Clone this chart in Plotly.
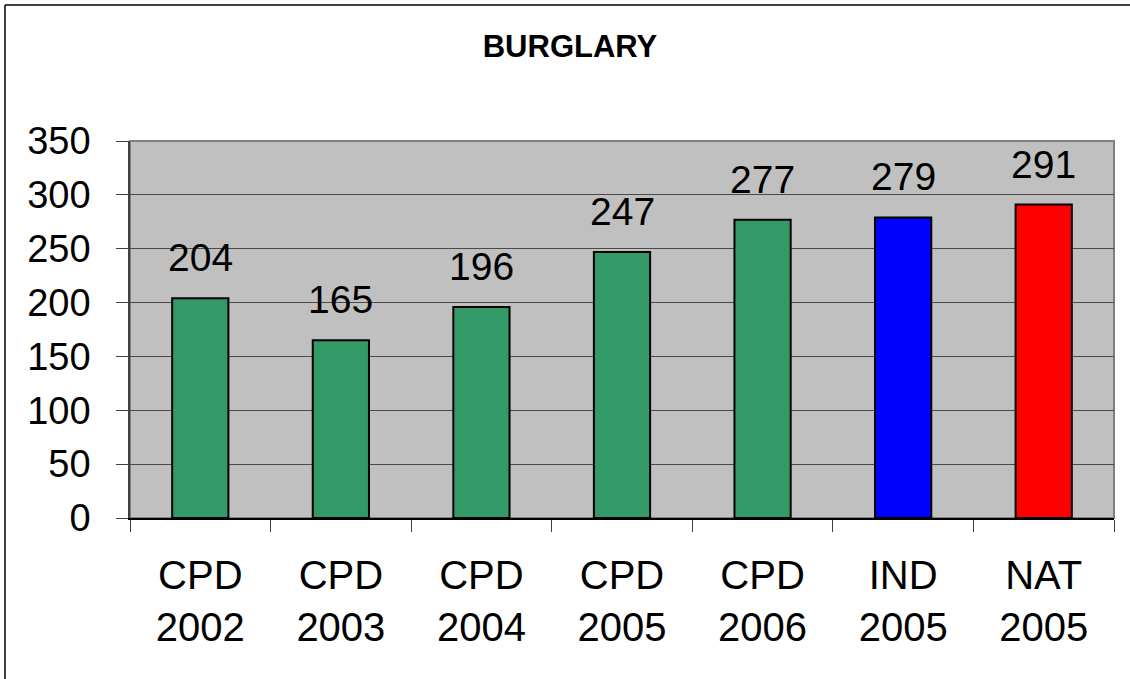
import plotly.graph_objects as go

categories = ["CPD<br>2002", "CPD<br>2003", "CPD<br>2004", "CPD<br>2005", "CPD<br>2006", "IND<br>2005", "NAT<br>2005"]
values = [204, 165, 196, 247, 277, 279, 291]
bar_colors = ["#339966", "#339966", "#339966", "#339966", "#339966", "#0000FF", "#FF0000"]
y_ticks = [0, 50, 100, 150, 200, 250, 300, 350]

FONT = "Liberation Sans, Arial, sans-serif"
W, H = 1130, 679
L, R, T, B = 130, 16, 141, 161
pw, ph = W - L - R, H - T - B

fig = go.Figure()
fig.add_trace(go.Bar(
    x=categories, y=values,
    marker=dict(color=bar_colors, line=dict(color="black", width=2)),
    width=0.4,
    hoverinfo="skip",
))

for c, v in zip(categories, values):
    fig.add_annotation(x=c, y=v, text=str(v), showarrow=False,
                       yanchor="bottom", yshift=17,
                       font=dict(family=FONT, size=39, color="black"))

# outer chart border (left and top visible)
bx = (5 - L) / pw
by = (H - B - 5) / ph
bx_end = (W - L) / pw
by_end = -B / ph
fig.add_shape(type="line", xref="paper", yref="paper", x0=bx, x1=bx, y0=by_end, y1=by,
              line=dict(color="black", width=1.5))
fig.add_shape(type="line", xref="paper", yref="paper", x0=bx, x1=bx_end, y0=by, y1=by,
              line=dict(color="black", width=1.5))

fig.update_layout(
    width=W, height=H,
    margin=dict(l=L, r=R, t=T, b=B, pad=0),
    paper_bgcolor="white",
    plot_bgcolor="#C0C0C0",
    showlegend=False,
    title=dict(text="<b>BURGLARY</b>", x=570 / W, xanchor="center",
               y=1 - 46 / H, yanchor="middle",
               font=dict(family=FONT, size=31, color="black")),
)
fig.update_yaxes(
    range=[0, 350], tickvals=y_ticks, ticktext=[str(t) for t in y_ticks],
    showgrid=True, gridcolor="#4a4a4a", gridwidth=1,
    ticks="outside", ticklen=12, tickcolor="#404040", tickwidth=1,
    showline=True, linecolor="#404040", linewidth=1.5, mirror=False,
    zeroline=False,
    tickfont=dict(family=FONT, size=38, color="black"),
    ticklabelstandoff=18,
)
fig.update_xaxes(
    type="category", tickson="boundaries",
    ticks="outside", ticklen=12, tickcolor="#404040", tickwidth=1,
    showline=True, linecolor="black", linewidth=1.5,
    showgrid=False,
    tickfont=dict(family=FONT, size=40, color="black"),
    ticklabelstandoff=21,
)
# plot area frame on top/right
fig.add_shape(type="rect", xref="paper", yref="paper", x0=0, x1=1, y0=0, y1=1,
              line=dict(color="#808080", width=2), layer="below")

fig.write_html("out.html",
               config={"displayModeBar": False},
               post_script="document.body.style.margin='0px';document.body.style.overflow='hidden';")
